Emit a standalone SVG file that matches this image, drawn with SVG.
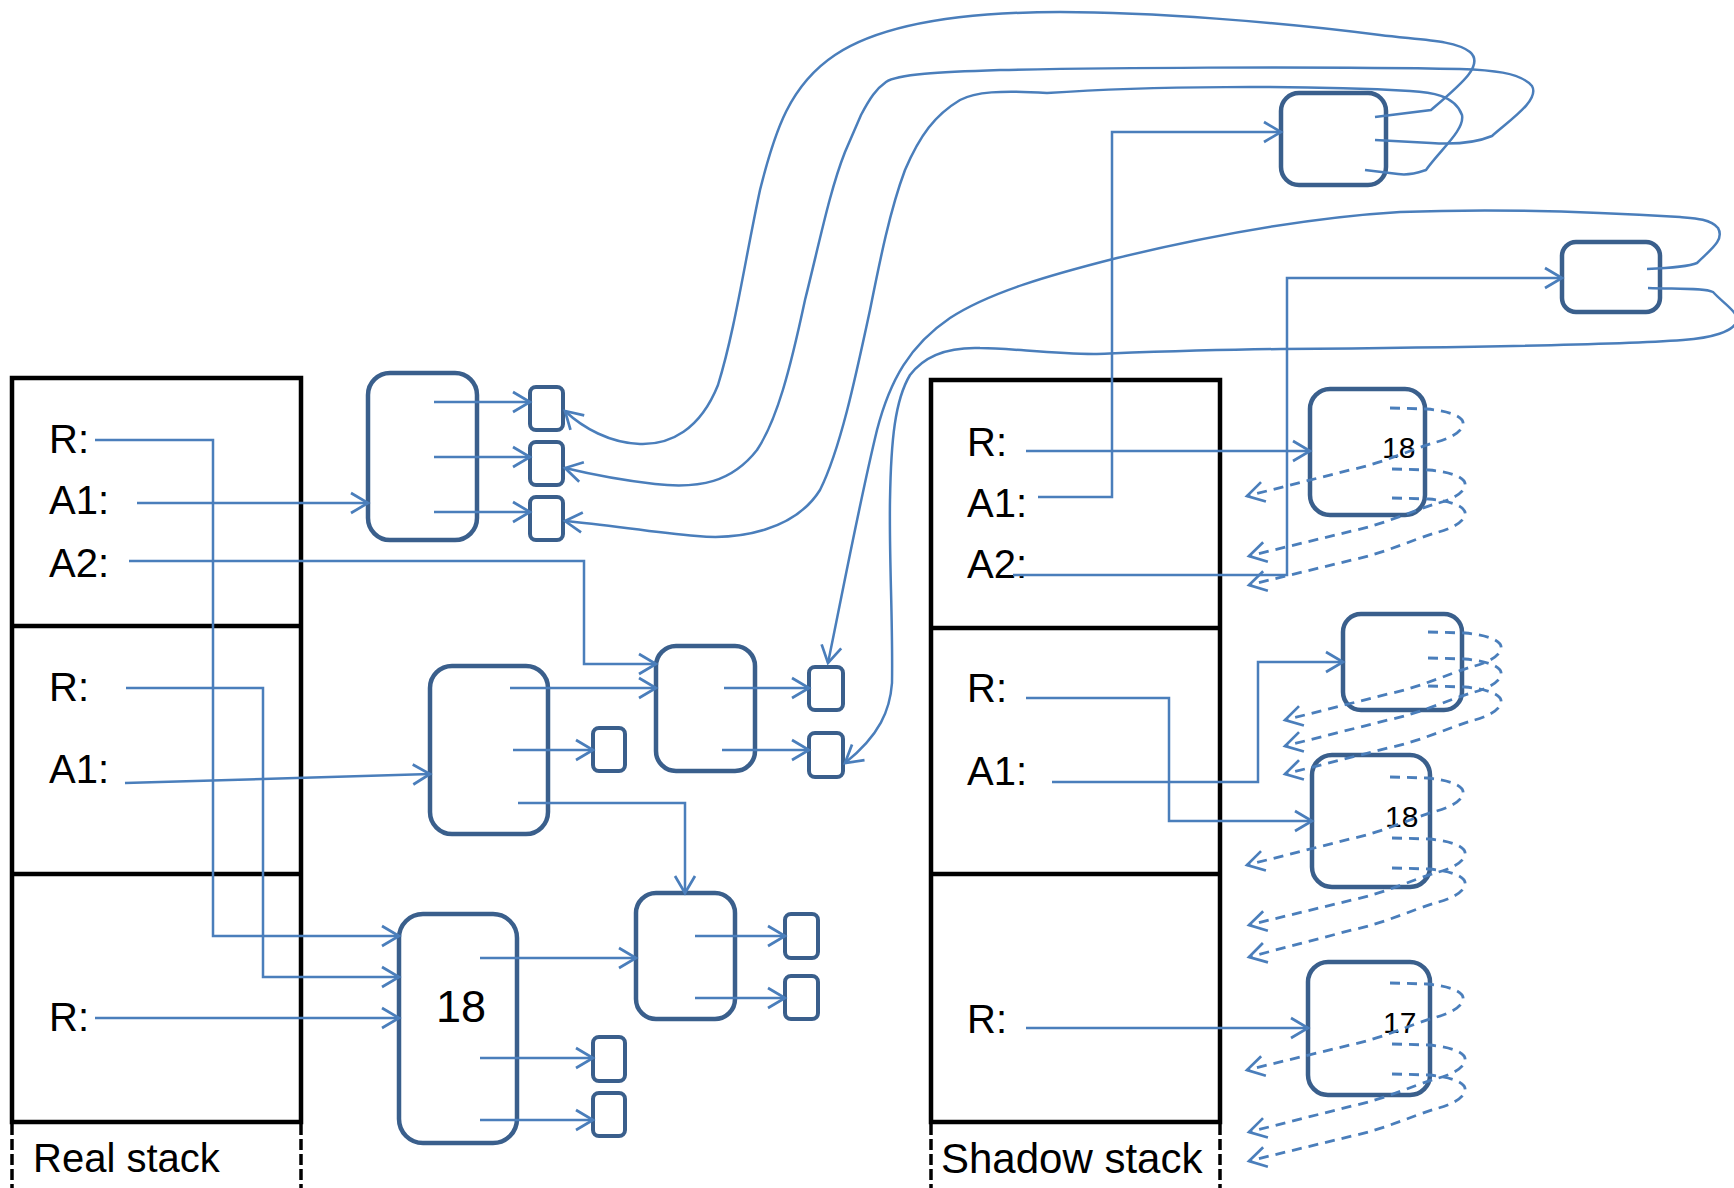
<svg xmlns="http://www.w3.org/2000/svg" width="1734" height="1188" viewBox="0 0 1734 1188">
<style>
.frame{fill:none;stroke:#000;stroke-width:4.5}
.side{fill:none;stroke:#000;stroke-width:3.5;stroke-dasharray:11 4}
.lbl{font-family:"Liberation Sans",Arial,sans-serif;font-size:40px;fill:#000}
.num{font-family:"Liberation Sans",Arial,sans-serif;font-size:30px;fill:#000}
.obj{fill:none;stroke:#3a5f8c;stroke-width:4.5}
.cell{fill:none;stroke:#3a5f8c;stroke-width:4}
.c{fill:none;stroke:#4a7ebb;stroke-width:2.5;marker-end:url(#arr)}
.d{fill:none;stroke:#4a7ebb;stroke-width:2.8;stroke-dasharray:10 7;marker-end:url(#arr)}
</style>
<defs>
<marker id="arr" markerUnits="userSpaceOnUse" markerWidth="24" markerHeight="24" viewBox="0 0 24 24" refX="20" refY="12" orient="auto" overflow="visible">
<path d="M3,2 L20,12 L3,22" fill="none" stroke="#4a7ebb" stroke-width="2.7"/>
</marker>
</defs>
<rect width="1734" height="1188" fill="#fff"/>

<g id="real-stack">
<rect class="frame" x="12" y="378" width="289" height="744"/>
<line class="frame" x1="12" y1="626" x2="301" y2="626"/>
<line class="frame" x1="12" y1="874" x2="301" y2="874"/>
<line class="side" x1="12" y1="1124" x2="12" y2="1188"/>
<line class="side" x1="301" y1="1124" x2="301" y2="1188"/>
<text class="lbl" x="49" y="453">R:</text>
<text class="lbl" x="49" y="514">A1:</text>
<text class="lbl" x="49" y="577">A2:</text>
<text class="lbl" x="49" y="701">R:</text>
<text class="lbl" x="49" y="783">A1:</text>
<text class="lbl" x="49" y="1031">R:</text>
<text class="lbl" x="33" y="1172">Real stack</text>
</g>

<g id="shadow-stack">
<rect class="frame" x="931" y="380" width="289" height="742"/>
<line class="frame" x1="931" y1="628" x2="1220" y2="628"/>
<line class="frame" x1="931" y1="874" x2="1220" y2="874"/>
<line class="side" x1="931" y1="1124" x2="931" y2="1188"/>
<line class="side" x1="1220" y1="1124" x2="1220" y2="1188"/>
<text class="lbl" x="967" y="456">R:</text>
<text class="lbl" x="967" y="517">A1:</text>
<text class="lbl" x="967" y="578">A2:</text>
<text class="lbl" x="967" y="702">R:</text>
<text class="lbl" x="967" y="785">A1:</text>
<text class="lbl" x="967" y="1033">R:</text>
<text class="lbl" x="941" y="1173" style="font-size:42px">Shadow stack</text>
</g>

<g id="obj-tl"><rect class="obj" x="368" y="373" width="109" height="167" rx="22"/></g>
<g id="cell-tl-1"><rect class="cell" x="530" y="387" width="33" height="43" rx="6"/></g>
<g id="cell-tl-2"><rect class="cell" x="530" y="442" width="33" height="43" rx="6"/></g>
<g id="cell-tl-3"><rect class="cell" x="530" y="497" width="33" height="43" rx="6"/></g>

<g id="obj-mid"><rect class="obj" x="430" y="666" width="118" height="168" rx="22"/></g>
<g id="cell-mid-1"><rect class="cell" x="593" y="728" width="32" height="43" rx="6"/></g>

<g id="obj-box2"><rect class="obj" x="656" y="646" width="99" height="125" rx="20"/></g>
<g id="cell-box2-1"><rect class="cell" x="809" y="667" width="34" height="43" rx="6"/></g>
<g id="cell-box2-2"><rect class="cell" x="809" y="733" width="34" height="44" rx="6"/></g>

<g id="obj-18"><rect class="obj" x="399" y="914" width="118" height="229" rx="24"/>
<text x="436" y="1022" style="font-family:'Liberation Sans',Arial,sans-serif;font-size:45px">18</text></g>
<g id="cell-18-1"><rect class="cell" x="593" y="1037" width="32" height="44" rx="6"/></g>
<g id="cell-18-2"><rect class="cell" x="593" y="1093" width="32" height="43" rx="6"/></g>

<g id="obj-br"><rect class="obj" x="636" y="893" width="99" height="126" rx="20"/></g>
<g id="cell-br-1"><rect class="cell" x="785" y="914" width="33" height="44" rx="6"/></g>
<g id="cell-br-2"><rect class="cell" x="785" y="976" width="33" height="43" rx="6"/></g>

<g id="obj-tr1"><rect class="obj" x="1281" y="93" width="105" height="92" rx="18"/></g>
<g id="obj-tr2"><rect class="obj" x="1562" y="242" width="98" height="70" rx="14"/></g>

<g id="shadow-s1"><rect class="obj" x="1310" y="389" width="115" height="126" rx="20"/><text class="num" x="1382" y="458">18</text></g>
<g id="shadow-s2"><rect class="obj" x="1343" y="614" width="119" height="96" rx="18"/></g>
<g id="shadow-s3"><rect class="obj" x="1312" y="755" width="118" height="132" rx="20"/><text class="num" x="1385" y="827">18</text></g>
<g id="shadow-s4"><rect class="obj" x="1308" y="962" width="122" height="133" rx="20"/><text class="num" x="1383" y="1033">17</text></g>

<g id="connectors">
<path class="c" d="M95,440 L213,440 L213,936 L399,936"/>
<path class="c" d="M137,503 L368,503"/>
<path class="c" d="M129,561 L584,561 L584,664 L656,664"/>
<path class="c" d="M126,688 L263,688 L263,977 L399,977"/>
<path class="c" d="M125,783 L430,774"/>
<path class="c" d="M95,1018 L399,1018"/>
<path class="c" d="M434,402 L530,402"/>
<path class="c" d="M434,457 L530,457"/>
<path class="c" d="M434,512 L530,512"/>
<path class="c" d="M510,688 L656,688"/>
<path class="c" d="M513,750 L593,750"/>
<path class="c" d="M518,803 L685,803 L685,893"/>
<path class="c" d="M724,688 L809,688"/>
<path class="c" d="M722,750 L809,750"/>
<path class="c" d="M480,958 L636,958"/>
<path class="c" d="M480,1058 L593,1058"/>
<path class="c" d="M480,1120 L593,1120"/>
<path class="c" d="M695,936 L785,936"/>
<path class="c" d="M695,998 L785,998"/>
<path class="c" d="M1375,117 L1431,110 C1460,85 1485,65 1470,52 C1455,40 1420,40 1380,35 C1280,22 1150,12 1060,12 C960,12 880,25 835,55 C790,85 775,130 760,190 C745,260 735,330 718,385 C700,430 670,445 640,444 C610,443 583,428 565,411"/>
<path class="c" d="M1375,140 L1431,143 C1460,145 1480,141 1492,136 C1510,120 1540,100 1532,86 C1520,72 1490,70 1460,69 C1300,66 1100,68 1000,70 C940,72 897,74 886,82 C876,89 870,98 861,115 L845,152 C830,190 820,240 805,300 C790,370 777,420 757,450 C732,482 700,489 655,484 C620,480 590,474 565,468"/>
<path class="c" d="M1365,170 L1398,174 C1410,176 1420,172 1426,170 C1440,150 1465,130 1462,115 C1455,95 1430,92 1410,91 C1300,85 1150,86 1047,93 C1000,90 975,92 960,100 C935,115 920,135 905,170 C890,210 880,260 870,310 C855,380 840,450 820,490 C795,530 740,540 697,536 C650,532 610,525 565,521"/>
<path class="c" d="M1647,269 C1670,268 1690,266 1697,263 C1710,250 1725,240 1718,228 C1710,218 1690,218 1680,217 C1600,212 1500,208 1400,212 C1300,218 1200,238 1117,258 C1050,275 990,292 950,318 C910,345 890,380 877,430 C860,500 845,580 828,663"/>
<path class="c" d="M1648,288 C1680,289 1705,288 1713,292 C1722,302 1738,312 1737,320 C1735,332 1710,338 1683,340 C1600,346 1400,348 1281,349 C1200,350 1150,352 1094,354 C1050,354 1010,348 980,348 C950,347 925,355 910,375 C895,400 891,440 890,500 C889,560 893,620 892,683 C890,710 880,735 845,763"/>
<path class="c" d="M1026,451 L1310,451"/>
<path class="c" d="M1038,497 L1112,497 L1112,132 L1281,132"/>
<path class="c" d="M1013,575 L1287,575 L1287,278 L1562,278"/>
<path class="c" d="M1026,698 L1169,698 L1169,821 L1312,821"/>
<path class="c" d="M1052,782 L1258,782 L1258,662 L1343,662"/>
<path class="c" d="M1026,1028 L1308,1028"/>
<path class="d" d="M1390,408 l37,1 c23,2 38,8 36,16 c-2,9 -18,15 -30,18 c-23,7 -50,20 -83,27 l-103,26"/>
<path class="d" d="M1392,469 l37,1 c23,2 38,8 36,16 c-2,9 -18,15 -30,18 c-23,7 -50,20 -83,27 l-103,25"/>
<path class="d" d="M1392,498 l37,1 c23,2 38,8 36,16 c-2,9 -18,15 -30,18 c-23,7 -50,20 -83,27 l-103,25"/>
<path class="d" d="M1428,632 l37,1 c23,2 38,8 36,16 c-2,9 -18,15 -30,18 c-23,7 -50,20 -83,27 l-103,26"/>
<path class="d" d="M1428,658 l37,1 c23,2 38,8 36,16 c-2,9 -18,15 -30,18 c-23,7 -50,20 -83,27 l-103,26"/>
<path class="d" d="M1428,686 l37,1 c23,2 38,8 36,16 c-2,9 -18,15 -30,18 c-23,7 -50,20 -83,27 l-103,26"/>
<path class="d" d="M1390,777 l37,1 c23,2 38,8 36,16 c-2,9 -18,15 -30,18 c-23,7 -50,20 -83,27 l-103,26"/>
<path class="d" d="M1392,838 l37,1 c23,2 38,8 36,16 c-2,9 -18,15 -30,18 c-23,7 -50,20 -83,27 l-103,25"/>
<path class="d" d="M1392,868 l37,1 c23,2 38,8 36,16 c-2,9 -18,15 -30,18 c-23,7 -50,20 -83,27 l-103,27"/>
<path class="d" d="M1390,983 l37,1 c23,2 38,8 36,16 c-2,9 -18,15 -30,18 c-23,7 -50,20 -83,27 l-103,25"/>
<path class="d" d="M1392,1044 l37,1 c23,2 38,8 36,16 c-2,9 -18,15 -30,18 c-23,7 -50,20 -83,27 l-103,26"/>
<path class="d" d="M1392,1074 l37,1 c23,2 38,8 36,16 c-2,9 -18,15 -30,18 c-23,7 -50,20 -83,27 l-103,25"/>
</g>
</svg>
